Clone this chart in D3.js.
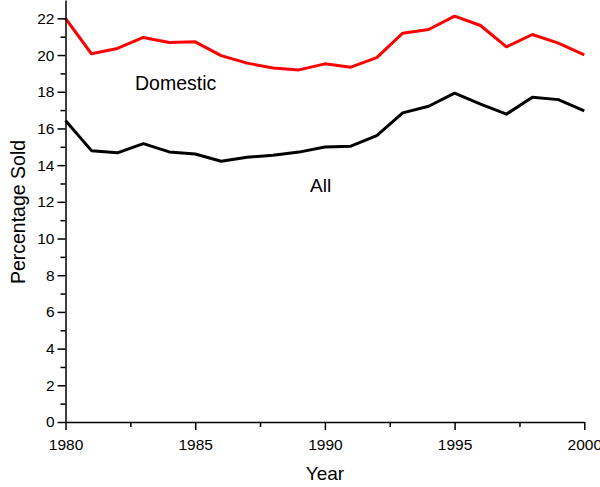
<!DOCTYPE html>
<html>
<head>
<meta charset="utf-8">
<script src="https://cdn.jsdelivr.net/npm/d3@7"></script>
<style>
  body { margin: 0; background: #fff; }
  svg text { font-family: "Liberation Sans", Arial, sans-serif; fill: #000; }
  .axis path, .axis line { stroke: #000; stroke-width: 1.5; }
</style>
</head>
<body>
<div id="chart"></div>
<script>
let canvasWidth = 600;
let canvasHeight = 487;

// data
let years = [1980, 1981, 1982, 1983, 1984, 1985, 1986, 1987, 1988, 1989, 1990,
             1991, 1992, 1993, 1994, 1995, 1996, 1997, 1998, 1999, 2000];
let domestic = [22.0, 20.07, 20.36, 20.96, 20.68, 20.72, 19.97, 19.56, 19.29, 19.19, 19.52,
                19.34, 19.86, 21.19, 21.39, 22.12, 21.61, 20.45, 21.12, 20.65, 20.01];
let all = [16.43, 14.79, 14.67, 15.17, 14.72, 14.61, 14.21, 14.43, 14.54, 14.71, 14.99,
           15.03, 15.61, 16.85, 17.21, 17.92, 17.32, 16.78, 17.70, 17.57, 16.96];
let xTicks = [1980, 1985, 1990, 1995, 2000];
let xMinor = [1982.5, 1987.5, 1992.5, 1997.5];
let yTicks = [0, 2, 4, 6, 8, 10, 12, 14, 16, 18, 20, 22];
let yMinor = [1, 3, 5, 7, 9, 11, 13, 15, 17, 19, 21];

let plotLeft = 65.5, plotRight = 584.3, plotTop = 0, plotBottom = 422;

let svg = d3.select("div#chart")
    .append("svg")
    .attr("width", canvasWidth)
    .attr("height", canvasHeight);

let xScale = d3.scaleLinear().domain([1980, 2000]).range([plotLeft, plotRight]);
let yScale = d3.scaleLinear().domain([0, 23]).range([plotBottom, plotTop]);

// lines
let line = d3.line()
    .x((d, i) => xScale(years[i]))
    .y(d => yScale(d));

svg.append("path")
    .datum(domestic)
    .attr("fill", "none")
    .attr("stroke", "#ff0000")
    .attr("stroke-width", 3)
    .attr("stroke-linejoin", "round")
    .attr("d", line);

svg.append("path")
    .datum(all)
    .attr("fill", "none")
    .attr("stroke", "#000")
    .attr("stroke-width", 3)
    .attr("stroke-linejoin", "round")
    .attr("d", line);

// minor ticks
svg.append("g")
    .attr("class", "axis")
    .attr("transform", "translate(" + plotLeft + ",0)")
    .call(d3.axisLeft(yScale).tickValues(yMinor).tickSize(5).tickFormat("").tickSizeOuter(0))
    .select(".domain").remove();

svg.append("g")
    .attr("class", "axis")
    .attr("transform", "translate(0," + plotBottom + ")")
    .call(d3.axisBottom(xScale).tickValues(xMinor).tickSize(5).tickFormat("").tickSizeOuter(0))
    .select(".domain").remove();

// y axis
let yAxis = svg.append("g")
    .attr("class", "axis")
    .attr("transform", "translate(" + plotLeft + ",0)")
    .call(d3.axisLeft(yScale).tickValues(yTicks).tickSize(8).tickPadding(3).tickSizeOuter(0));
yAxis.selectAll("text").style("font-size", "15.5px");

// x axis
let xAxis = svg.append("g")
    .attr("class", "axis")
    .attr("transform", "translate(0," + plotBottom + ")")
    .call(d3.axisBottom(xScale).tickValues(xTicks).tickFormat(d3.format("d")).tickSize(8).tickPadding(9).tickSizeOuter(0));
xAxis.selectAll("text").style("font-size", "15.5px");

// axis labels
svg.append("text")
    .attr("x", xScale(1990))
    .attr("y", 480)
    .attr("text-anchor", "middle")
    .style("font-size", "19px")
    .text("Year");

svg.append("text")
    .attr("transform", "translate(25,212) rotate(-90)")
    .attr("text-anchor", "middle")
    .style("font-size", "19.5px")
    .text("Percentage Sold");

// series labels
svg.append("text")
    .attr("x", 135)
    .attr("y", 90)
    .style("font-size", "19.5px")
    .text("Domestic");

svg.append("text")
    .attr("x", 310)
    .attr("y", 191.5)
    .style("font-size", "19px")
    .text("All");
</script>
</body>
</html>
